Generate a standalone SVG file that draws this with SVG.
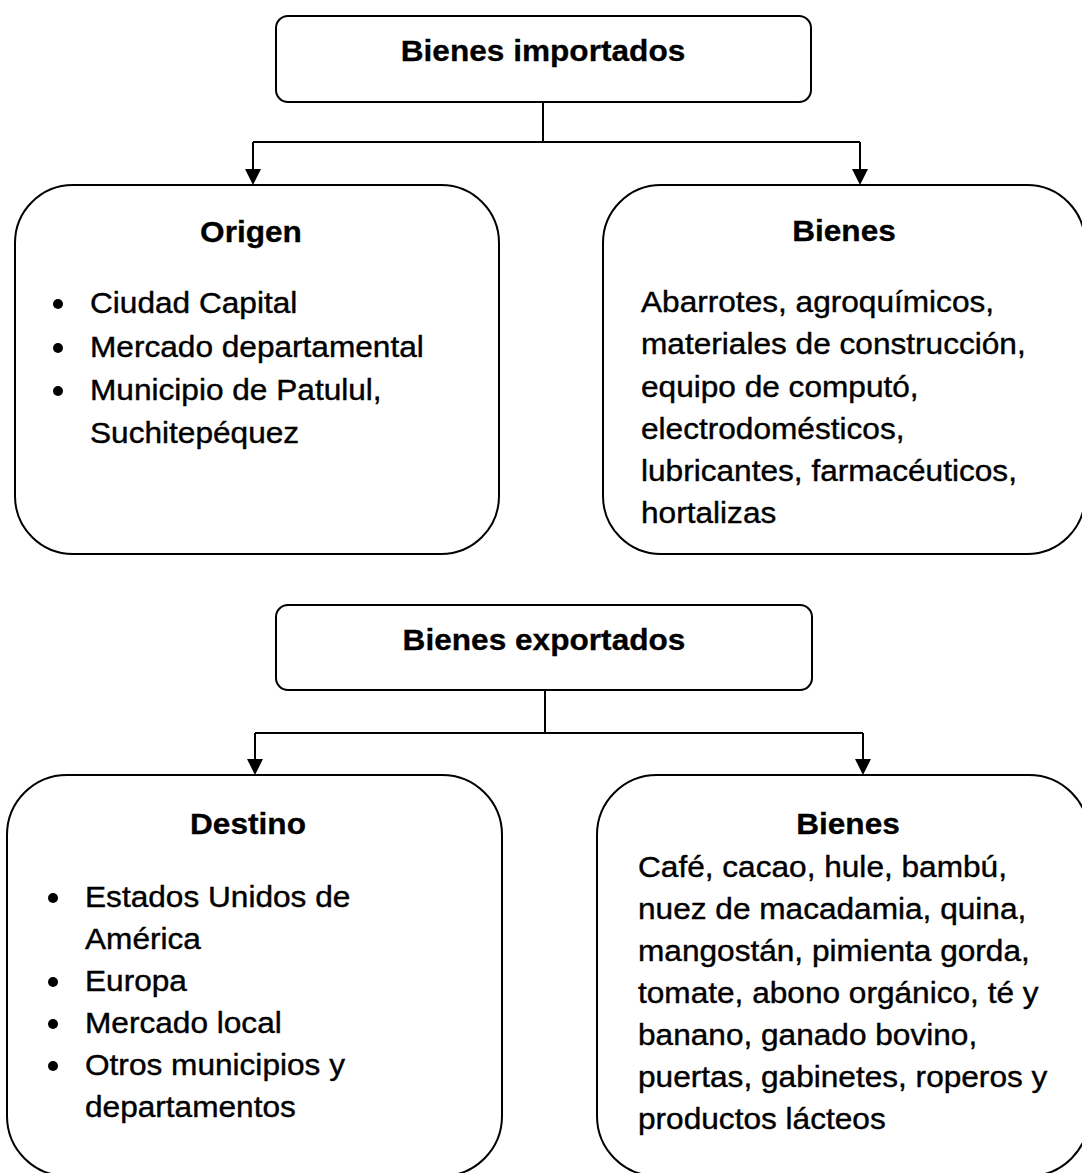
<svg xmlns="http://www.w3.org/2000/svg" width="1082" height="1173" viewBox="0 0 1082 1173">
<defs>
<style>
.box{fill:#fff;stroke:#000;stroke-width:2}
.ln{fill:none;stroke:#000;stroke-width:2}
.ah{fill:#000;stroke:none}
.h{font-family:"Liberation Sans",Arial,sans-serif;font-weight:bold;font-size:29px;fill:#000;stroke:#000;stroke-width:0.3}
.t{font-family:"Liberation Sans",Arial,sans-serif;font-size:29px;fill:#000;stroke:#000;stroke-width:0.4}
.b{fill:#000}
</style>
</defs>
<rect width="1082" height="1173" fill="#fff"/>
<g id="connectors">
<path class="ln" d="M543 102 V142 M253 142 H860 M253 142 V170 M860 142 V170"/>
<path class="ah" d="M245 169 L261 169 L253 185 Z"/>
<path class="ah" d="M852 169 L868 169 L860 185 Z"/>
<path class="ln" d="M545 690 V733 M255 733 H863 M255 733 V760 M863 733 V760"/>
<path class="ah" d="M247 759 L263 759 L255 775 Z"/>
<path class="ah" d="M855 759 L871 759 L863 775 Z"/>
</g>
<g id="importados">
<rect class="box" x="276" y="16" width="535" height="86" rx="12"/>
<text class="h" text-anchor="middle" transform="translate(543 61) scale(1.09 1)">Bienes importados</text>
</g>
<g id="origen">
<rect class="box" x="15" y="185" width="484" height="369" rx="58"/>
<text class="h" text-anchor="middle" transform="translate(251 242) scale(1.09 1)">Origen</text>
<circle class="b" cx="58" cy="304" r="5"/>
<circle class="b" cx="58" cy="348" r="5"/>
<circle class="b" cx="58" cy="391" r="5"/>
<text class="t" transform="translate(90 313) scale(1.09 1)"><tspan x="0" y="0">Ciudad Capital</tspan><tspan x="0" y="44">Mercado departamental</tspan><tspan x="0" y="87">Municipio de Patulul,</tspan><tspan x="0" y="130">Suchitepéquez</tspan></text>
</g>
<g id="bienes-importados">
<rect class="box" x="603" y="185" width="482" height="369" rx="58"/>
<text class="h" text-anchor="middle" transform="translate(844 241) scale(1.09 1)">Bienes</text>
<text class="t" transform="translate(641 312) scale(1.09 1)"><tspan x="0" y="0">Abarrotes, agroquímicos,</tspan><tspan x="0" y="42">materiales de construcción,</tspan><tspan x="0" y="85">equipo de computó,</tspan><tspan x="0" y="127">electrodomésticos,</tspan><tspan x="0" y="169">lubricantes, farmacéuticos,</tspan><tspan x="0" y="211">hortalizas</tspan></text>
</g>
<g id="exportados">
<rect class="box" x="276" y="605" width="536" height="85" rx="12"/>
<text class="h" text-anchor="middle" transform="translate(544 650) scale(1.09 1)">Bienes exportados</text>
</g>
<g id="destino">
<rect class="box" x="7" y="775" width="495" height="401" rx="60"/>
<text class="h" text-anchor="middle" transform="translate(248 834) scale(1.09 1)">Destino</text>
<circle class="b" cx="53" cy="898" r="5"/>
<circle class="b" cx="53" cy="982" r="5"/>
<circle class="b" cx="53" cy="1024" r="5"/>
<circle class="b" cx="53" cy="1066" r="5"/>
<text class="t" transform="translate(85 907) scale(1.09 1)"><tspan x="0" y="0">Estados Unidos de</tspan><tspan x="0" y="42">América</tspan><tspan x="0" y="84">Europa</tspan><tspan x="0" y="126">Mercado local</tspan><tspan x="0" y="168">Otros municipios y</tspan><tspan x="0" y="210">departamentos</tspan></text>
</g>
<g id="bienes-exportados">
<rect class="box" x="597" y="775" width="492" height="401" rx="60"/>
<text class="h" text-anchor="middle" transform="translate(848 834) scale(1.09 1)">Bienes</text>
<text class="t" transform="translate(638 877) scale(1.09 1)"><tspan x="0" y="0">Café, cacao, hule, bambú,</tspan><tspan x="0" y="42">nuez de macadamia, quina,</tspan><tspan x="0" y="84">mangostán, pimienta gorda,</tspan><tspan x="0" y="126">tomate, abono orgánico, té y</tspan><tspan x="0" y="168">banano, ganado bovino,</tspan><tspan x="0" y="210">puertas, gabinetes, roperos y</tspan><tspan x="0" y="252">productos lácteos</tspan></text>
</g>
</svg>
